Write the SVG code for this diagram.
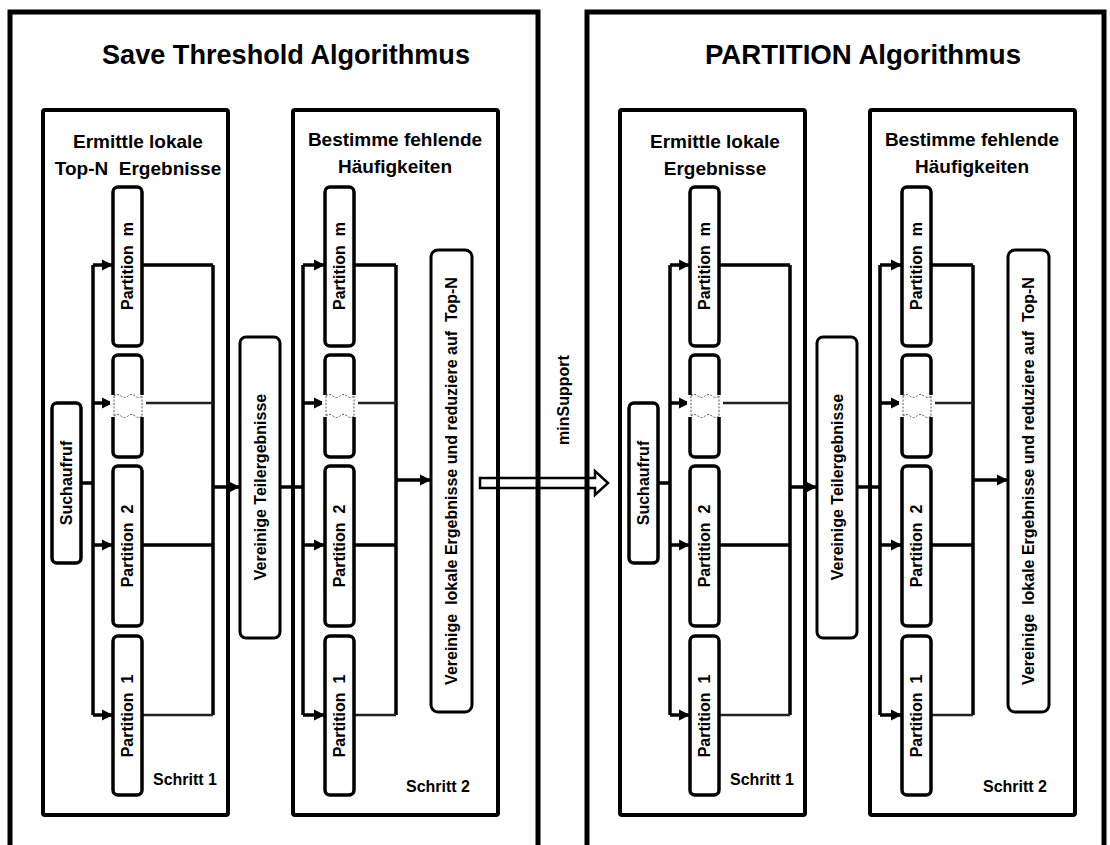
<svg xmlns="http://www.w3.org/2000/svg" width="1110" height="845" viewBox="0 0 1110 845">
<style>
text{font-family:"Liberation Sans",Arial,sans-serif;font-weight:bold;fill:#000}
.title{font-size:28px;text-anchor:middle}
.head{font-size:19px;text-anchor:middle}
.lbl{font-size:16px;text-anchor:middle}
.step{font-size:16px}
.outer{fill:none;stroke:#000;stroke-width:5}
.stepbox{fill:none;stroke:#000;stroke-width:4}
.node{fill:#fff;stroke:#000;stroke-width:3.5}
.wide{fill:#fff;stroke:#000;stroke-width:3}
.ln{fill:none;stroke:#000;stroke-width:3.5}
.thin{fill:none;stroke:#222;stroke-width:2.5}
.arr{fill:none;stroke:#000;stroke-width:3.5;marker-end:url(#ah)}
.brk{fill:none;stroke:#555;stroke-width:1;stroke-dasharray:2 1.5}
.hollow{fill:#fff;stroke:#000;stroke-width:2.5}
</style>
<defs>
<marker id="ah" viewBox="0 0 10 10" refX="10" refY="5" markerWidth="11" markerHeight="15" markerUnits="userSpaceOnUse" orient="auto"><path d="M0,0 L10,5 L0,10 z" fill="#000"/></marker>
<g id="half-conn">
<path class="ln" d="M81,483 H93 M93,265 V715"/>
<path class="arr" d="M93,265 H113"/>
<path class="arr" d="M93,403 H113"/>
<path class="arr" d="M93,545 H113"/>
<path class="arr" d="M93,715 H113"/>
<path class="ln" d="M142,265 H213 M213,265 V715 M142,545 H213"/>
<path class="thin" d="M142,403 H213 M142,715 H213"/>
<path class="arr" d="M213,487 H240"/>
<path class="ln" d="M280,487 H303 M303,265 V715"/>
<path class="arr" d="M303,265 H325"/>
<path class="arr" d="M303,403 H325"/>
<path class="arr" d="M303,545 H325"/>
<path class="arr" d="M303,715 H325"/>
<path class="ln" d="M354,265 H396 M396,265 V715 M354,545 H396"/>
<path class="thin" d="M354,403 H396 M354,715 H396"/>
<path class="arr" d="M396,480 H431"/>
</g>
<g id="brk1">
<rect x="110" y="395" width="36" height="22" fill="#fff"/>
<path class="brk" d="M114,396 q3.5,-3 7,0 t7,0 t7,0 t7,0 M114,416 q3.5,-3 7,0 t7,0 t7,0 t7,0 M114,396 V416 M142,396 V416"/>
</g>
</defs>

<g id="connectors">
<path id="minsupport-arrow" class="hollow" d="M480,478 H595 V471 L608,483 L595,495 V488 H480 Z"/>
<use href="#half-conn"/>
<use href="#half-conn" transform="translate(577,0)"/>
</g>

<g id="save-threshold">
<rect class="outer" x="10" y="12" width="528" height="900"/>
<text class="title" x="286" y="64" textLength="368" lengthAdjust="spacingAndGlyphs">Save Threshold Algorithmus</text>
</g>
<g id="partition-alg">
<rect class="outer" x="587" y="12" width="517" height="900"/>
<text class="title" x="863" y="64" textLength="316" lengthAdjust="spacingAndGlyphs">PARTITION Algorithmus</text>
</g>

<text id="minsupport" class="lbl" transform="translate(569,400) rotate(-90)">minSupport</text>

<!-- left half -->
<g id="st-schritt1">
<rect class="stepbox" x="43" y="110" width="185" height="705" rx="2"/>
<text class="head" x="138" y="148">Ermittle lokale</text>
<text class="head" x="138" y="175" xml:space="preserve">Top-N  Ergebnisse</text>
<text class="step" x="153" y="785">Schritt 1</text>
</g>
<g id="st-schritt2">
<rect class="stepbox" x="293" y="110" width="205" height="705" rx="2"/>
<text class="head" x="395" y="146">Bestimme fehlende</text>
<text class="head" x="395" y="173">Häufigkeiten</text>
<text class="step" x="406" y="792">Schritt 2</text>
</g>
<g id="st-suchaufruf">
<rect class="node" x="52" y="403" width="29" height="160" rx="5"/>
<text class="lbl" transform="translate(66.5,483) rotate(-90)" dy="0.35em">Suchaufruf</text>
</g>
<g id="st-s1-pm"><rect class="node" x="113" y="187" width="29" height="159" rx="5"/><text class="lbl" transform="translate(127.5,266) rotate(-90)" dy="0.35em" xml:space="preserve">Partition  m</text></g>
<g id="st-s1-pdots"><rect class="node" x="113" y="355" width="29" height="102" rx="5"/><use href="#brk1"/></g>
<g id="st-s1-p2"><rect class="node" x="113" y="466" width="29" height="160" rx="5"/><text class="lbl" transform="translate(127.5,546) rotate(-90)" dy="0.35em" xml:space="preserve">Partition  2</text></g>
<g id="st-s1-p1"><rect class="node" x="113" y="636" width="29" height="159" rx="5"/><text class="lbl" transform="translate(127.5,716) rotate(-90)" dy="0.35em" xml:space="preserve">Partition  1</text></g>
<g id="st-merge"><rect class="wide" x="240" y="337" width="40" height="301" rx="6"/><text class="lbl" transform="translate(260,487) rotate(-90)" dy="0.35em">Vereinige Teilergebnisse</text></g>
<g id="st-s2-pm"><rect class="node" x="325" y="187" width="29" height="159" rx="5"/><text class="lbl" transform="translate(339.5,266) rotate(-90)" dy="0.35em" xml:space="preserve">Partition  m</text></g>
<g id="st-s2-pdots"><rect class="node" x="325" y="355" width="29" height="102" rx="5"/><use href="#brk1" transform="translate(212,0)"/></g>
<g id="st-s2-p2"><rect class="node" x="325" y="466" width="29" height="160" rx="5"/><text class="lbl" transform="translate(339.5,546) rotate(-90)" dy="0.35em" xml:space="preserve">Partition  2</text></g>
<g id="st-s2-p1"><rect class="node" x="325" y="636" width="29" height="159" rx="5"/><text class="lbl" transform="translate(339.5,716) rotate(-90)" dy="0.35em" xml:space="preserve">Partition  1</text></g>
<g id="st-final"><rect class="wide" x="431" y="250" width="41" height="462" rx="7"/><text class="lbl" transform="translate(451.5,481) rotate(-90)" dy="0.35em" xml:space="preserve">Vereinige  lokale Ergebnisse und reduziere auf  Top-N</text></g>

<!-- right half -->
<g id="pa-schritt1">
<rect class="stepbox" x="620" y="110" width="185" height="705" rx="2"/>
<text class="head" x="715" y="148">Ermittle lokale</text>
<text class="head" x="715" y="175">Ergebnisse</text>
<text class="step" x="730" y="785">Schritt 1</text>
</g>
<g id="pa-schritt2">
<rect class="stepbox" x="870" y="110" width="205" height="705" rx="2"/>
<text class="head" x="972" y="146">Bestimme fehlende</text>
<text class="head" x="972" y="173">Häufigkeiten</text>
<text class="step" x="983" y="792">Schritt 2</text>
</g>
<g id="pa-suchaufruf">
<rect class="node" x="629" y="403" width="29" height="160" rx="5"/>
<text class="lbl" transform="translate(643.5,483) rotate(-90)" dy="0.35em">Suchaufruf</text>
</g>
<g id="pa-s1-pm"><rect class="node" x="690" y="187" width="29" height="159" rx="5"/><text class="lbl" transform="translate(704.5,266) rotate(-90)" dy="0.35em" xml:space="preserve">Partition  m</text></g>
<g id="pa-s1-pdots"><rect class="node" x="690" y="355" width="29" height="102" rx="5"/><use href="#brk1" transform="translate(577,0)"/></g>
<g id="pa-s1-p2"><rect class="node" x="690" y="466" width="29" height="160" rx="5"/><text class="lbl" transform="translate(704.5,546) rotate(-90)" dy="0.35em" xml:space="preserve">Partition  2</text></g>
<g id="pa-s1-p1"><rect class="node" x="690" y="636" width="29" height="159" rx="5"/><text class="lbl" transform="translate(704.5,716) rotate(-90)" dy="0.35em" xml:space="preserve">Partition  1</text></g>
<g id="pa-merge"><rect class="wide" x="817" y="337" width="40" height="301" rx="6"/><text class="lbl" transform="translate(837,487) rotate(-90)" dy="0.35em">Vereinige Teilergebnisse</text></g>
<g id="pa-s2-pm"><rect class="node" x="902" y="187" width="29" height="159" rx="5"/><text class="lbl" transform="translate(916.5,266) rotate(-90)" dy="0.35em" xml:space="preserve">Partition  m</text></g>
<g id="pa-s2-pdots"><rect class="node" x="902" y="355" width="29" height="102" rx="5"/><use href="#brk1" transform="translate(789,0)"/></g>
<g id="pa-s2-p2"><rect class="node" x="902" y="466" width="29" height="160" rx="5"/><text class="lbl" transform="translate(916.5,546) rotate(-90)" dy="0.35em" xml:space="preserve">Partition  2</text></g>
<g id="pa-s2-p1"><rect class="node" x="902" y="636" width="29" height="159" rx="5"/><text class="lbl" transform="translate(916.5,716) rotate(-90)" dy="0.35em" xml:space="preserve">Partition  1</text></g>
<g id="pa-final"><rect class="wide" x="1008" y="250" width="41" height="462" rx="7"/><text class="lbl" transform="translate(1028.5,481) rotate(-90)" dy="0.35em" xml:space="preserve">Vereinige  lokale Ergebnisse und reduziere auf  Top-N</text></g>
</svg>
